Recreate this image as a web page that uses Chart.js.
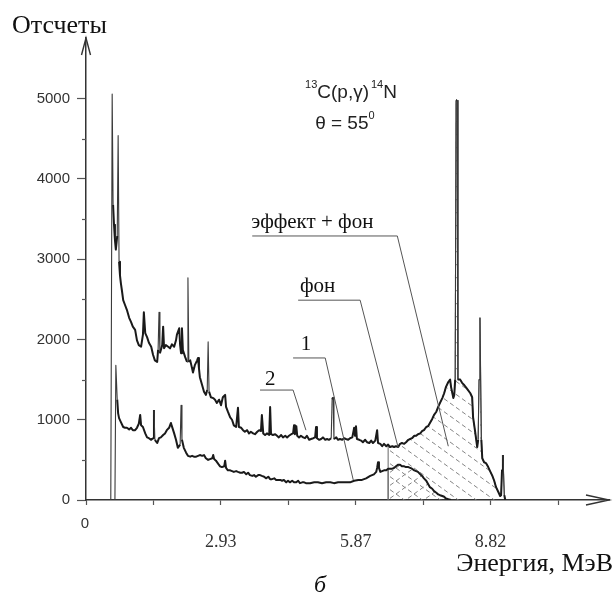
<!DOCTYPE html>
<html><head><meta charset="utf-8">
<script src="https://cdn.jsdelivr.net/npm/chart.js@4.4.1/dist/chart.umd.min.js"></script>
<style>html,body{margin:0;padding:0;background:#fff}#wrap{width:615px;height:612px;position:relative}</style>
</head><body><div id="wrap"><canvas id="c" width="615" height="612"></canvas></div>
<script>
// ---- spectrum 1 (effect + background), energy in MeV, counts ----
const energy1 = [
0.54,0.57,0.59,0.61,0.63,0.65,0.68,0.70,0.72,0.74,
0.76,0.78,0.81,0.85,0.89,0.94,0.98,1.02,1.07,1.11,
1.15,1.20,1.24,1.26,1.29,1.33,1.37,1.42,1.46,1.50,
1.55,1.57,1.59,1.61,1.66,1.68,1.70,1.74,1.79,1.83,
1.87,1.92,1.96,1.98,2.03,2.05,2.07,2.09,2.11,2.16,
2.20,2.22,2.24,2.27,2.31,2.33,2.37,2.42,2.44,2.46,
2.48,2.53,2.57,2.61,2.64,2.66,2.68,2.72,2.77,2.81,
2.85,2.90,2.94,2.98,3.03,3.05,3.09,3.14,3.18,3.22,
3.27,3.31,3.33,3.38,3.42,3.46,3.51,3.55,3.59,3.64,
3.68,3.73,3.77,3.81,3.83,3.86,3.90,3.94,3.99,4.01,
4.03,4.07,4.12,4.16,4.20,4.25,4.29,4.34,4.38,4.42,
4.47,4.51,4.53,4.55,4.58,4.60,4.64,4.68,4.73,4.77,
4.81,4.86,4.90,4.95,4.99,5.01,5.03,5.08,5.12,5.16,
5.21,5.25,5.29,5.34,5.36,5.38,5.40,5.45,5.49,5.53,
5.58,5.62,5.66,5.71,5.75,5.80,5.84,5.86,5.88,5.90,
5.95,5.99,6.03,6.08,6.12,6.17,6.21,6.25,6.30,6.34,
6.36,6.41,6.45,6.49,6.54,6.58,6.62,6.67,6.71,6.75,
6.80,6.84,6.88,6.93,6.97,7.02,7.06,7.10,7.15,7.19,
7.23,7.28,7.32,7.36,7.41,7.45,7.49,7.54,7.58,7.63,
7.67,7.71,7.76,7.80,7.84,7.89,7.93,7.95,8.00,8.02,
8.04,8.06,8.08,8.10,8.15,8.19,8.24,8.28,8.32,8.37,
8.41,8.43,8.47,8.52,8.54,8.56,8.58,8.61,8.63,8.67,
8.71,8.76,8.80,8.85,8.89,8.93,8.98,9.02,9.04,9.06,
9.08,9.11,9.13];
const counts1 = [
0,5060,3680,3430,3240,3120,3290,4540,2970,2800,
2700,2620,2490,2430,2370,2270,2220,2160,2120,1990,
1930,1910,2060,2340,2080,2030,1960,1910,1810,1740,
1720,1870,2340,1830,1930,2160,1890,1930,1910,1890,
1940,1910,1990,2060,2140,1930,1830,2140,1870,1780,
1720,2770,1720,1740,1640,1590,1680,1740,1770,1640,
1530,1430,1350,1310,1370,1970,1350,1280,1270,1250,
1210,1250,1180,1280,1310,1160,1100,1030,1000,930,
910,1150,910,900,870,850,870,830,850,830,
820,850,870,860,1060,830,810,830,810,1160,
820,810,820,800,780,810,780,800,780,800,
820,830,930,820,920,800,780,800,780,770,
800,750,760,770,780,910,770,750,760,780,
750,760,750,770,1250,1280,760,780,750,760,
750,770,760,750,770,780,900,800,920,760,
750,740,720,750,720,710,740,710,740,870,
710,700,670,700,670,690,660,670,660,670,
660,700,710,700,720,750,760,770,800,800,
820,830,860,870,910,920,960,1010,1060,1100,
1160,1210,1270,1330,1410,1470,1500,1410,1270,1310,
1500,4980,4980,1500,1500,1460,1430,1400,1370,1330,
1280,1030,870,660,750,1500,2270,750,520,470,
460,410,360,300,240,160,100,50,60,370,
560,60,0];
// ---- spectrum 2 (background) ----
const energy2 = [
0.63,0.65,0.68,0.70,0.72,0.76,0.81,0.85,0.89,0.94,
0.98,1.02,1.07,1.11,1.15,1.18,1.20,1.24,1.29,1.33,
1.37,1.42,1.46,1.48,1.50,1.55,1.59,1.63,1.68,1.72,
1.76,1.81,1.85,1.87,1.92,1.96,2.00,2.05,2.07,2.09,
2.13,2.18,2.22,2.27,2.31,2.35,2.40,2.44,2.48,2.53,
2.57,2.61,2.66,2.70,2.75,2.77,2.79,2.83,2.88,2.92,
2.96,3.01,3.03,3.05,3.09,3.14,3.18,3.22,3.27,3.31,
3.36,3.40,3.44,3.49,3.53,3.57,3.62,3.66,3.70,3.75,
3.79,3.83,3.88,3.92,3.97,4.01,4.05,4.10,4.14,4.18,
4.23,4.27,4.31,4.36,4.40,4.44,4.49,4.53,4.58,4.62,
4.66,4.71,4.75,4.79,4.88,4.97,5.05,5.14,5.23,5.32,
5.40,5.49,5.58,5.66,5.75,5.84,5.93,6.01,6.10,6.19,
6.27,6.32,6.34,6.36,6.38,6.41,6.45,6.49,6.54,6.58,
6.62,6.67,6.71,6.75,6.80,6.84,6.88,6.93,6.97,7.02,
7.06,7.10,7.15,7.19,7.23,7.28,7.32,7.36,7.41,7.45,
7.49,7.54,7.58,7.63,7.67,7.71,7.76,7.80,7.84,7.89,
7.95];
const counts2 = [
0,1680,1250,1080,1020,970,910,900,900,880,
900,870,870,900,950,1060,930,910,830,780,
770,750,770,1120,750,710,770,780,810,830,
870,900,960,920,830,750,650,690,1180,750,
650,590,550,540,550,540,540,550,560,550,
560,520,500,510,520,560,510,490,450,420,
410,420,490,400,370,370,360,350,360,350,
340,340,350,320,340,310,300,310,290,310,
310,300,290,270,290,260,260,270,250,250,
250,240,250,220,240,220,240,220,220,240,
210,220,220,210,210,220,220,210,220,220,
210,220,220,220,220,240,250,250,270,300,
320,350,400,470,400,350,360,370,370,390,
390,390,400,420,440,440,420,420,410,410,
400,390,370,360,350,320,300,270,240,200,
160,140,110,90,70,60,50,40,20,10,
0];
// ---- axes ----
const xTickValues = [0, 1.4685, 2.937, 4.4055, 5.874, 7.3425, 8.811, 10.2795];
const xTickLabels = ['', '', '2.93', '', '5.87', '', '8.82', ''];
const yTickValues = [0, 1000, 2000, 3000, 4000, 5000];
const yMinorTickValues = [500, 1500, 2500, 3500, 4500];
const windowStart = 6.58;   // left edge of hatched windows (MeV)
// ---- annotation leaders (MeV, counts) ----
const leaderEffect = [[3.62, 3290], [6.78, 3290], [7.89, 670]];
const leaderBg = [[4.62, 2490], [5.97, 2490], [6.80, 650]];
const leader1 = [[4.51, 1770], [5.21, 1770], [5.82, 250]];
const leader2 = [[3.79, 1370], [4.51, 1370], [4.79, 870]];

const pts = (E, C) => E.map((e, i) => ({x: e, y: C[i]}));
const spec1 = pts(energy1, counts1);
const spec2 = pts(energy2, counts2);
const win1 = [{x: windowStart, y: 0}].concat(spec1.filter(p => p.x >= windowStart));
const win2 = [{x: windowStart, y: 0}].concat(spec2.filter(p => p.x >= windowStart));

function hatch(dir) {
  const w = 18, h = 13;
  const c = document.createElement('canvas'); c.width = w; c.height = h;
  const g = c.getContext('2d');
  g.strokeStyle = '#777'; g.lineWidth = 0.9;
  const len = Math.hypot(w, h), n = 3, seg = len / n;
  for (const [ox, oy] of [[0,0],[-w,0],[w,0],[0,-h],[0,h]]) {
    for (let k = 0; k < n; k++) {
      const t0 = k * seg / len, t1 = (k * seg + seg * 0.6) / len;
      let x0, y0, x1, y1;
      if (dir > 0) { x0 = t0 * w; y0 = t0 * h; x1 = t1 * w; y1 = t1 * h; }
      else { x0 = t0 * w; y0 = h - t0 * h; x1 = t1 * w; y1 = h - t1 * h; }
      g.beginPath(); g.moveTo(x0 + ox, y0 + oy); g.lineTo(x1 + ox, y1 + oy); g.stroke();
    }
  }
  return g.createPattern(c, 'repeat');
}
const ctx0 = document.getElementById('c').getContext('2d');
const patEffect = hatch(1);
const patBg = hatch(-1);

// thin grey strokes for narrow spikes, heavier strokes for the continuum
const spikeSeg = {
  borderWidth: c => Math.abs(c.p1.parsed.y - c.p0.parsed.y) > 350 ? 1.1 : 2.0,
  borderColor: c => Math.abs(c.p1.parsed.y - c.p0.parsed.y) > 350 ? '#3a3a3a' : '#1a1a1a'
};

function rich(ctx, parts, x, y) {
  for (const p of parts) {
    ctx.font = p.sup ? '11px "Liberation Sans"' : '19px "Liberation Sans"';
    ctx.fillText(p.t, x, p.sup ? y - 10 : y);
    x += ctx.measureText(p.t).width + (p.gap || 0);
  }
}

const decor = {
  id: 'decor',
  afterDraw(chart) {
    const {ctx, scales: {x: xs, y: ys}} = chart;
    const px = v => xs.getPixelForValue(v), py = v => ys.getPixelForValue(v);
    ctx.save();
    ctx.strokeStyle = '#555'; ctx.lineWidth = 1.2;
    yMinorTickValues.forEach(v => {
      const y = Math.round(py(v)) + 0.5;
      ctx.beginPath(); ctx.moveTo(xs.left - 4, y); ctx.lineTo(xs.left, y); ctx.stroke();
    });
    ctx.strokeStyle = '#333'; ctx.lineWidth = 1.4;
    const ax = xs.left, at = ys.top;
    ctx.beginPath(); ctx.moveTo(ax - 4.5, at + 17); ctx.lineTo(ax, at); ctx.lineTo(ax + 4.5, at + 17); ctx.stroke();
    const br = xs.right, bb = ys.bottom;
    ctx.beginPath(); ctx.moveTo(br - 23, bb - 5); ctx.lineTo(br, bb); ctx.lineTo(br - 23, bb + 5); ctx.stroke();
    // leaders
    ctx.strokeStyle = '#555'; ctx.lineWidth = 1;
    [leaderEffect, leaderBg, leader1, leader2].forEach(L => {
      ctx.beginPath();
      L.forEach((p, i) => { const X = px(p[0]), Y = py(p[1]); i ? ctx.lineTo(X, Y) : ctx.moveTo(X, Y); });
      ctx.stroke();
    });
    // texts
    ctx.fillStyle = '#111'; ctx.textBaseline = 'alphabetic';
    ctx.font = '21px "Liberation Serif"'; ctx.textAlign = 'left';
    ctx.fillText('эффект + фон', px(3.60), py(3390));
    ctx.fillText('фон', px(4.66), py(2590));
    ctx.textAlign = 'center';
    ctx.fillText('1', px(4.79), py(1870));
    ctx.fillText('2', px(4.01), py(1430));
    ctx.textAlign = 'left'; ctx.fillStyle = '#222';
    rich(ctx, [{t: '13', sup: 1}, {t: 'C(p,γ)', gap: 2}, {t: '14', sup: 1}, {t: 'N'}], px(4.77), py(5010));
    rich(ctx, [{t: 'θ = 55'}, {t: '0', sup: 1}], px(4.99), py(4620));
    // axis titles / captions
    ctx.fillStyle = '#111';
    ctx.font = '26px "Liberation Serif"'; ctx.textAlign = 'left';
    ctx.fillText('Отсчеты', 12, 33);
    ctx.textAlign = 'right';
    ctx.fillText('Энергия, МэВ', 613, 571);
    ctx.textAlign = 'center';
    ctx.font = 'italic 24px "Liberation Serif"';
    ctx.fillText('б', 320, 592);
    ctx.font = '15px "Liberation Sans"'; ctx.fillStyle = '#333';
    ctx.fillText('0', px(0) - 1, 528);
    ctx.restore();
  }
};

new Chart(ctx0, {
  type: 'line',
  data: {
    datasets: [
      {data: spec1, borderColor: '#1a1a1a', borderWidth: 2, pointRadius: 0, fill: false, order: 1, borderJoinStyle: 'round', segment: spikeSeg},
      {data: spec2, borderColor: '#1a1a1a', borderWidth: 2, pointRadius: 0, fill: false, order: 1, borderJoinStyle: 'round', segment: spikeSeg},
      {data: win1, borderColor: '#666', borderWidth: 1, pointRadius: 0, fill: 'origin', backgroundColor: patEffect, order: 3},
      {data: win2, borderColor: '#666', borderWidth: 1, pointRadius: 0, fill: 'origin', backgroundColor: patBg, order: 2}
    ]
  },
  options: {
    responsive: false, animation: false, devicePixelRatio: 1,
    layout: {padding: {left: 0, top: 38, right: 6, bottom: 0}},
    plugins: {legend: {display: false}, tooltip: {enabled: false}},
    elements: {line: {tension: 0}},
    scales: {
      x: {
        type: 'linear', min: 0, max: 11.39,
        afterBuildTicks: s => { s.ticks = xTickValues.map(v => ({value: v})); },
        afterFit: s => { s.height = 112; },
        ticks: {autoSkip: false, maxRotation: 0, padding: 26, color: '#333',
          font: {family: 'Liberation Serif', size: 18},
          callback: (v, i) => xTickLabels[i]},
        grid: {display: true, drawOnChartArea: false, drawTicks: true, tickLength: 5, tickColor: '#555', tickWidth: 1.2},
        border: {display: true, color: '#333', width: 1.5}
      },
      y: {
        type: 'linear', min: 0, max: 5757,
        afterBuildTicks: s => { s.ticks = yTickValues.map(v => ({value: v})); },
        afterFit: s => { s.width = 86; },
        ticks: {padding: 7, color: '#333', font: {family: 'Liberation Sans', size: 15},
          callback: v => String(v)},
        grid: {display: true, drawOnChartArea: false, drawTicks: true, tickLength: 9, tickColor: '#555', tickWidth: 1.2},
        border: {display: true, color: '#333', width: 1.5}
      }
    }
  },
  plugins: [decor]
});
</script></body></html>
